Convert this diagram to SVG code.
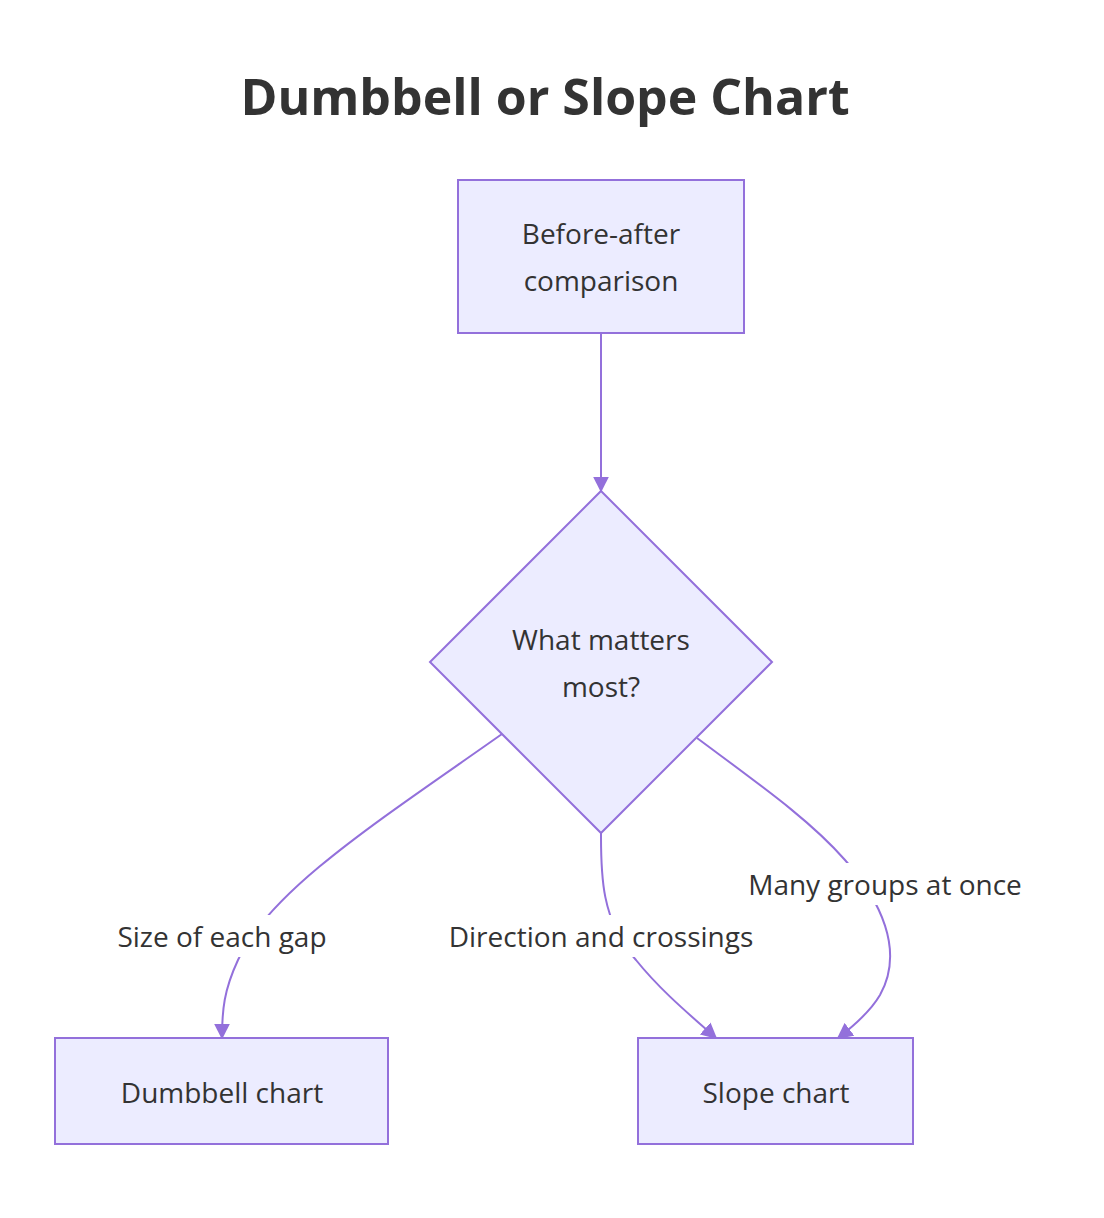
<svg xmlns="http://www.w3.org/2000/svg" width="1104" height="1218" viewBox="0 0 1104 1218">
<style>
text{font-family:"Open Sans","Noto Sans","Liberation Sans",sans-serif;fill:#333;text-anchor:middle}
.n{fill:#ECECFF;stroke:#9370DB;stroke-width:2}
.e{fill:none;stroke:#9370DB;stroke-width:2;marker-end:url(#a)}
.t{font-size:28px}
.l{font-size:28px}
.bg{fill:#fff}
</style>
<defs><marker id="a" viewBox="0 0 10 10" refX="9" refY="5" markerWidth="8" markerHeight="8" markerUnits="userSpaceOnUse" orient="auto"><path d="M0,0L10,5L0,10z" fill="#9370DB" transform="scale(1)"/></marker>
<marker id="a2" viewBox="0 0 10 10" refX="9" refY="5" markerWidth="16" markerHeight="16" markerUnits="userSpaceOnUse" orient="auto"><path d="M0,0L10,5L0,10z" fill="#9370DB"/></marker></defs>
<rect width="1104" height="1218" fill="#fff"/>
<text x="545" y="115" font-size="50" font-weight="bold">Dumbbell or Slope Chart</text>
<g id="edges">
<path class="e" style="marker-end:url(#a2)" d="M601,333 L601,491"/>
<path class="e" style="marker-end:url(#a2)" d="M502,734 C380,820 270,890 238,960 C224,990 222,1010 222,1038"/>
<path class="e" style="marker-end:url(#a2)" d="M601,833 C601,870 600,920 636,960 C660,990 690,1015 716,1038"/>
<path class="e" style="marker-end:url(#a2)" d="M697,738 C760,785 810,820 845,860 C880,900 905,950 880,995 C870,1012 855,1025 838,1038"/>
<rect class="bg" x="104" y="915" width="236" height="42"/>
<text class="l" x="222" y="947">Size of each gap</text>
<rect class="bg" x="436" y="915" width="330" height="42"/>
<text class="l" x="601" y="947">Direction and crossings</text>
<rect class="bg" x="733" y="863" width="304" height="42"/>
<text class="l" x="885" y="895">Many groups at once</text>
</g>
<g id="start"><rect class="n" x="458" y="180" width="286" height="153"/>
<text class="t" x="601" y="244">Before-after</text><text class="t" x="601" y="291">comparison</text></g>
<g id="decide"><polygon class="n" points="601,491 772,662 601,833 430,662"/>
<text class="t" x="601" y="650">What matters</text><text class="t" x="601" y="697">most?</text></g>
<g id="dumbbell"><rect class="n" x="55" y="1038" width="333" height="106"/>
<text class="t" x="222" y="1103">Dumbbell chart</text></g>
<g id="slope"><rect class="n" x="638" y="1038" width="275" height="106"/>
<text class="t" x="776" y="1103">Slope chart</text></g>
</svg>
